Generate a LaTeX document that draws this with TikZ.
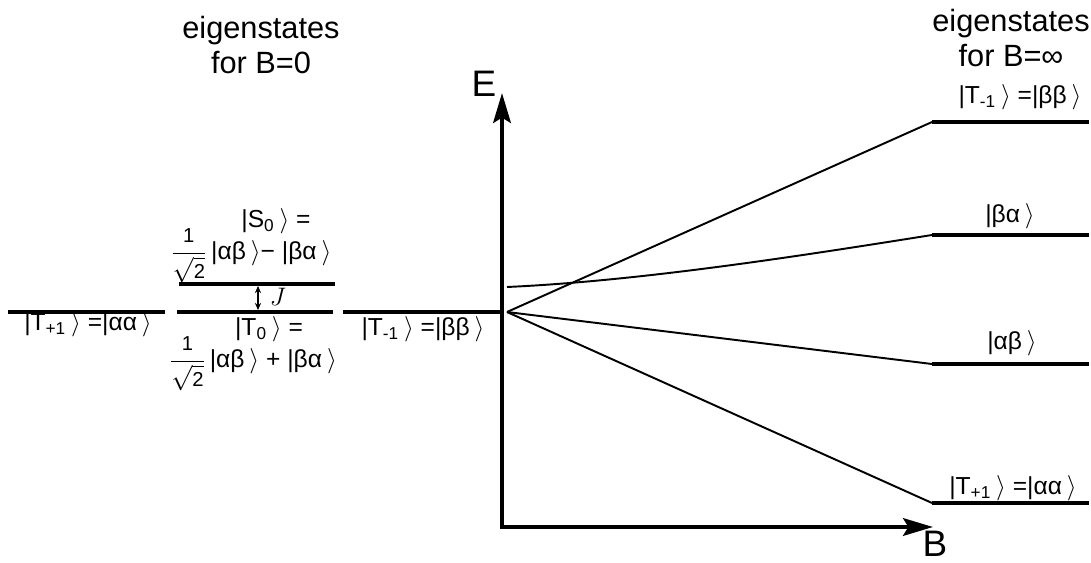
\documentclass[tikz,border=0pt]{standalone}
\usepackage{amsmath}
\usepackage{fontspec}
\setmainfont{Liberation Sans}
\usetikzlibrary{arrows.meta}

\newcommand{\kt}[1]{|#1\kern0.2em$\rangle$}
\newcommand{\fracsz}{\fontsize{11.5}{12}\selectfont}
\newcommand{\isq}{$\dfrac{\text{\fracsz 1}}{\sqrt{\text{\fracsz 2}}}$}

\begin{document}
\begin{tikzpicture}[x=0.02cm, y=-0.02cm,
    level/.style={line width=2.3pt},
    fan/.style={line width=1.1pt},
    axis/.style={line width=2.3pt, >={Stealth[length=17pt, width=10pt, inset=3pt]}},
    lbl/.style={font=\fontsize{14}{16}\selectfont, inner sep=0pt},
    ttl/.style={font=\fontsize{17.5}{19.5}\selectfont, align=center, inner sep=0pt},
    axlbl/.style={font=\fontsize{21}{24}\selectfont, inner sep=0pt}]

    \useasboundingbox (0,0) rectangle (1091,563);

    % --- Titles ---
    \node[ttl] (ttl0) at (261,45) {eigenstates\\for B=0};
    \node[ttl] (ttlinf) at (1011,38) {eigenstates\\for B=∞};

    % --- Levels for B=0 ---
    \coordinate (Tpa) at (8,312);   \coordinate (Tpb) at (165,312);
    \coordinate (Toa) at (177,312); \coordinate (Tob) at (333,312);
    \coordinate (Soa) at (179,284); \coordinate (Sob) at (335,284);
    \coordinate (Tma) at (343,312); \coordinate (Tmb) at (500,312);

    \draw[level] (Tpa) -- (Tpb);
    \draw[level] (Toa) -- (Tob);
    \draw[level] (Soa) -- (Sob);
    \draw[level] (Tma) -- (Tmb);

    \node[lbl] (lTp) at (88,324) {\kt{T\textsubscript{+1}} =\kt{αα}};
    \node[lbl] (lS1) at (276,221) {\kt{S\textsubscript{0}} =};
    \node[lbl] (lS2) at (251,256) {\isq\,\kt{αβ}− \kt{βα}};
    \node[lbl] (lT1) at (269,329) {\kt{T\textsubscript{0}} =};
    \node[lbl] (lT2) at (253,364) {\isq\,\kt{αβ} + \kt{βα}};
    \node[lbl] (lTm) at (423,329) {\kt{T\textsubscript{-1}} =\kt{ββ}};

    % exchange splitting J
    \coordinate (Ja) at (258,286); \coordinate (Jb) at (258,310);
    \draw[<->, line width=0.6pt, >={Stealth[length=4pt, width=3.5pt]}] (Ja) -- (Jb);
    \node[lbl, font=\fontsize{15}{17}\selectfont] (J) at (278,297) {$J$};

    % --- Axes ---
    \coordinate (O) at (502,527);
    \coordinate (Etop) at (502,93);
    \coordinate (Bend) at (933,527);
    \draw[axis, <->] (Etop) -- (O) -- (Bend);
    \node[axlbl] (E) at (484,84) {E};
    \node[axlbl] (B) at (935,544) {B};

    % --- Levels for B=infinity ---
    \coordinate (Z) at (507,312);
    \coordinate (Zs) at (507,287);
    \coordinate (Rma) at (932,122); \coordinate (Rmb) at (1089,122);
    \coordinate (Rba) at (932,235); \coordinate (Rbb) at (1089,235);
    \coordinate (Raa) at (932,364); \coordinate (Rab) at (1089,364);
    \coordinate (Rpa) at (932,503); \coordinate (Rpb) at (1089,503);

    \draw[level] (Rma) -- (Rmb);
    \draw[level] (Rba) -- (Rbb);
    \draw[level] (Raa) -- (Rab);
    \draw[level] (Rpa) -- (Rpb);

    % fan of energies vs B
    \draw[fan] (Z) -- (Rma);
    \draw[fan] (Zs) .. controls (640,281) and (800,256) .. (Rba);
    \draw[fan] (Z) -- (Raa);
    \draw[fan] (Z) -- (Rpa);

    \node[lbl] (rTm) at (1020,97) {\kt{T\textsubscript{-1}} =\kt{ββ}};
    \node[lbl] (rba) at (1010,216) {\kt{βα}};
    \node[lbl] (rab) at (1012,343) {\kt{αβ}};
    \node[lbl] (rTp) at (1013,488) {\kt{T\textsubscript{+1}} =\kt{αα}};

  \end{tikzpicture}
\end{document}
